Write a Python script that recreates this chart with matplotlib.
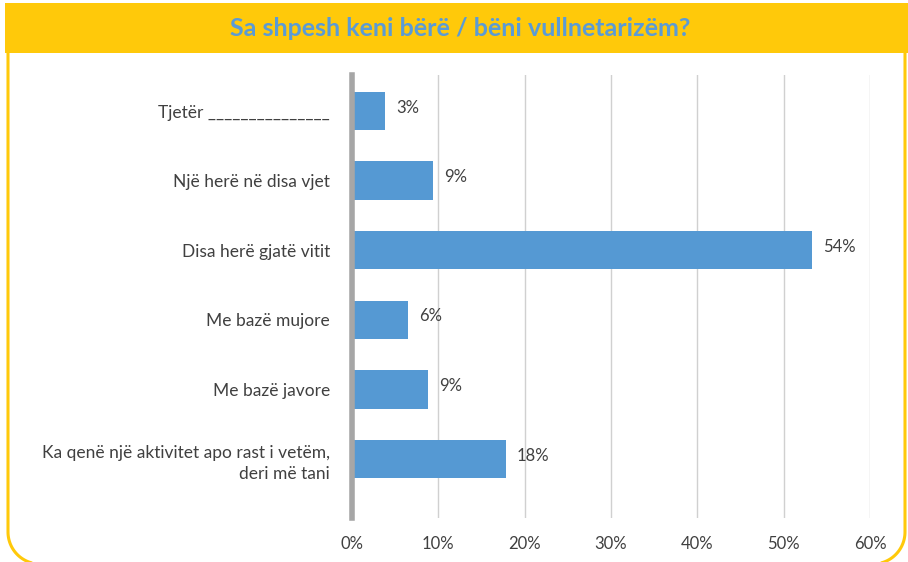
import matplotlib
matplotlib.use("Agg")
import matplotlib.pyplot as plt
import numpy as np
from matplotlib.patches import Rectangle

title = "Sa shpesh keni bërë / bëni vullnetarizëm?"
categories = [
    "Tjetër _______________",
    "Një herë në disa vjet",
    "Disa herë gjatë vitit",
    "Me bazë mujore",
    "Me bazë javore",
    "Ka qenë një aktivitet apo rast i vetëm,\nderi më tani",
]
values = [3.8, 9.4, 53.3, 6.5, 8.8, 17.8]
value_labels = ["3%", "9%", "54%", "6%", "9%", "18%"]
xticks = [0, 10, 20, 30, 40, 50, 60]
xtick_labels = ["0%", "10%", "20%", "30%", "40%", "50%", "60%"]

W, H = 908, 562
plt.rcParams['font.family'] = ['Lato', 'DejaVu Sans']
fig = plt.figure(figsize=(W / 100, H / 100), dpi=100)
fig.patch.set_facecolor('white')

# overlay for frame and title bar (pixel coordinates)
bg = fig.add_axes([0, 0, 1, 1], zorder=0)
bg.set_xlim(0, W)
bg.set_ylim(H, 0)
bg.axis('off')
yellow = '#FFC90A'

# rounded frame outline (left, bottom, right), bottom edge just below the image
left, right, bottom, top, r = 8, 905, 564, 30, 32
t1 = np.linspace(np.pi, np.pi / 2, 30)
t2 = np.linspace(np.pi / 2, 0, 30)
xs = np.concatenate([[left], left + r + r * np.cos(t1), right - r + r * np.cos(t2), [right]])
ys = np.concatenate([[top], bottom - r + r * np.sin(t1), bottom - r + r * np.sin(t2), [top]])
bg.plot(xs, ys, color=yellow, linewidth=2.2, solid_capstyle='butt')

bg.add_patch(Rectangle((5, 3), W - 5, 50, facecolor=yellow, edgecolor='none'))
bg.text(460, 28, title, ha='center', va='center', color='#5B9BD5',
        fontsize=18, fontweight='bold')

# main chart
ax = fig.add_axes([352 / W, 1 - 518 / H, (870 - 352) / W, (518 - 75) / H], zorder=2)
ax.patch.set_alpha(0)
y = list(range(len(categories)))
ax.set_xlim(0, 60)
ax.set_ylim(5 + 59 / 69.6, -36 / 69.6)
for gx in xticks[1:]:
    ax.axvline(gx, color='#D0D0D0', linewidth=1, zorder=1)
ax.barh(y, values, height=0.55, color='#5599D3', zorder=2)
ax.axvline(0, color='#A6A6A6', linewidth=4, zorder=3, clip_on=False)
for yi, v, lab in zip(y, values, value_labels):
    ax.text(v + 1.3, yi - 0.05, lab, va='center', ha='left', fontsize=12, color='#404040')
for s in ax.spines.values():
    s.set_visible(False)
ax.set_xticks(xticks)
ax.set_xticklabels(xtick_labels, fontsize=12, color='#404040')
ax.set_yticks(y)
ax.set_yticklabels(categories, fontsize=12.5, color='#404040', ha='right',
                   linespacing=1.45)
ax.tick_params(axis='x', length=0, pad=13)
ax.tick_params(axis='y', length=0, pad=16)

fig.savefig('out.png', dpi=100)
